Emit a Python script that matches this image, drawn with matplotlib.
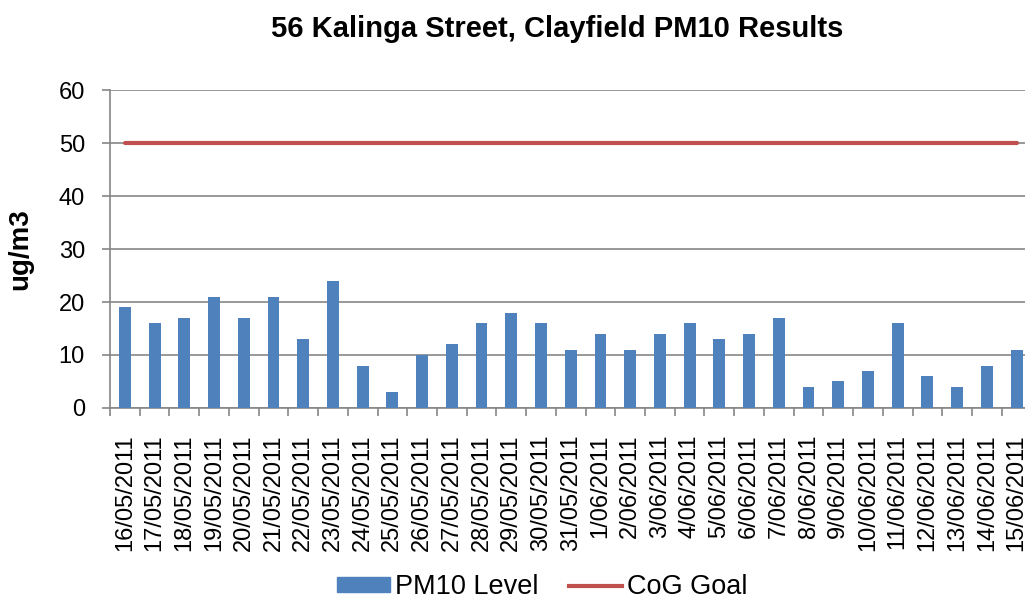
import numpy as np
import matplotlib.pyplot as plt
from matplotlib.patches import Patch
from matplotlib.lines import Line2D

plt.rcParams['font.family'] = ['Liberation Sans', 'DejaVu Sans']

# 측정 데이터
dates = ['16/05/2011', '17/05/2011', '18/05/2011', '19/05/2011', '20/05/2011',
         '21/05/2011', '22/05/2011', '23/05/2011', '24/05/2011', '25/05/2011',
         '26/05/2011', '27/05/2011', '28/05/2011', '29/05/2011', '30/05/2011',
         '31/05/2011', '1/06/2011', '2/06/2011', '3/06/2011', '4/06/2011',
         '5/06/2011', '6/06/2011', '7/06/2011', '8/06/2011', '9/06/2011',
         '10/06/2011', '11/06/2011', '12/06/2011', '13/06/2011', '14/06/2011',
         '15/06/2011']
pm10 = [19, 16, 17, 21, 17, 21, 13, 24, 8, 3, 10, 12, 16, 18, 16, 11,
        14, 11, 14, 16, 13, 14, 17, 4, 5, 7, 16, 6, 4, 8, 11]
goal = [50] * len(dates)

blue = '#4F81BD'
red = '#C0504D'
grey = '#868686'

fig = plt.figure(figsize=(10.25, 6.03), dpi=100)
# 축이 오른쪽으로 그림 밖까지 이어짐 (원본처럼 잘림)
ax = fig.add_axes([0.1073, 0.3234, 0.899, 0.5273])

x = np.arange(len(dates))
ax.bar(x, pm10, width=0.4, color=blue, zorder=3)
ax.plot(x, goal, color=red, lw=3, solid_capstyle='round', zorder=4)

ax.set_xlim(-0.5, len(dates) - 0.5)
ax.set_ylim(0, 60)
ax.set_yticks(range(0, 61, 10))
ax.yaxis.grid(True, color=grey, lw=1.2, zorder=0)

ax.set_xticks(x)
ax.set_xticklabels(dates, rotation=90, va='top', ha='center')
ax.set_xticks(np.arange(-0.5, len(dates)), minor=True)
ax.tick_params(axis='x', which='major', length=0, pad=19, labelsize=17)
ax.tick_params(axis='x', which='minor', length=6, width=1.2, color=grey, direction='out')
ax.tick_params(axis='y', length=6, width=1.2, color=grey, labelsize=17, pad=12)

for side in ['top', 'right']:
    ax.spines[side].set_visible(False)
for side in ['left', 'bottom']:
    ax.spines[side].set_color(grey)
    ax.spines[side].set_linewidth(1.2)

ax.set_ylabel('ug/m3', fontsize=20, fontweight='bold', labelpad=18)
fig.suptitle('56 Kalinga Street, Clayfield PM10 Results', x=0.544, y=0.952,
             va='center', fontsize=21, fontweight='bold')

handles = [Patch(color=blue), Line2D([0], [0], color=red, lw=3)]
fig.legend(handles, ['PM10 Level', 'CoG Goal'], loc='lower center',
           bbox_to_anchor=(0.529, -0.036), ncol=2, frameon=False, fontsize=19.5,
           handlelength=1.95, handleheight=0.5, handletextpad=0.18, columnspacing=1.15)

fig.savefig('out.png', dpi=100)
